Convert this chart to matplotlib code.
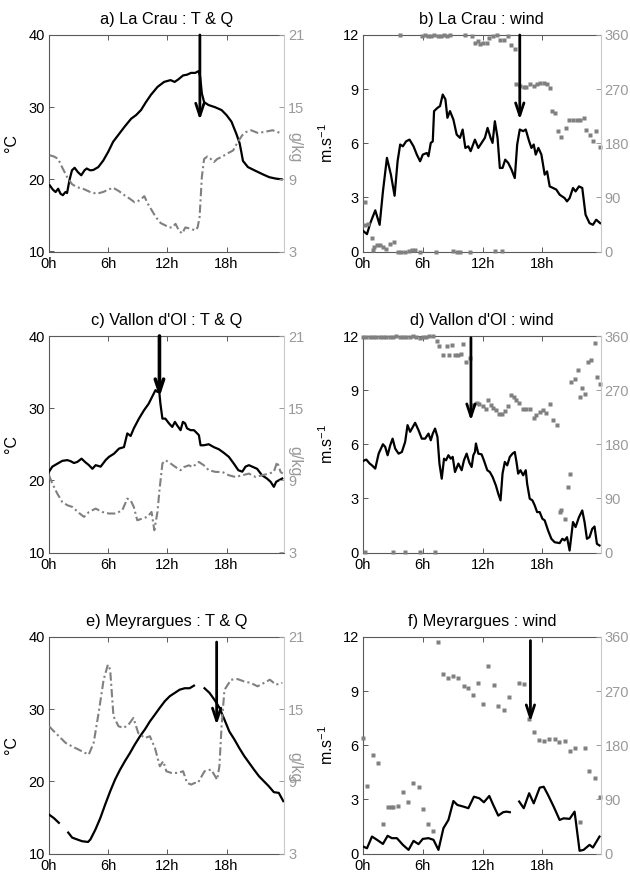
import numpy as np
import matplotlib
matplotlib.use('Agg')
import matplotlib.pyplot as plt

plt.rcParams['font.family'] = ['Liberation Sans', 'DejaVu Sans']
plt.rcParams['mathtext.fontset'] = 'custom'
plt.rcParams['mathtext.rm'] = 'Liberation Sans'
plt.rcParams['mathtext.it'] = 'Liberation Sans:italic'
plt.rcParams['mathtext.default'] = 'regular'
nan = np.nan

# ---------------- a) La Crau : T & Q ----------------
a_t_hour = [0.07, 0.4, 0.67, 0.93, 1.17, 1.4, 1.67, 1.83, 2.07, 2.33, 2.6, 2.93, 3.27, 3.6, 3.83, 4.17, 4.5, 5.0, 5.5, 6.0,
            6.5, 7.0, 7.67, 8.33, 8.83, 9.33, 9.83, 10.33, 11.0, 11.67, 12.33, 12.73, 13.07, 13.6, 14.0, 14.4, 14.83,
            15.17, 15.33, 15.5, 15.73, 16.17, 16.83, 17.5, 18.0, 18.5, 19.0, 19.33, 19.5, 19.67, 20.17, 20.83, 21.67,
            22.33, 23.0, 23.6]
a_t_val = [19.17, 18.56, 18.24, 18.7, 18.0, 17.8, 18.24, 18.1, 19.86, 21.25, 21.6, 21.0, 20.56, 21.25, 21.5, 21.25, 21.3,
           21.7, 22.6, 23.8, 25.2, 26.1, 27.3, 28.4, 28.9, 29.6, 30.7, 31.7, 32.8, 33.5, 33.75, 33.5, 33.8, 34.4, 34.5,
           34.75, 34.75, 35.0, 34.2, 31.9, 30.7, 30.3, 30.0, 29.6, 28.9, 28.0, 26.3, 25.0, 23.8, 22.55, 21.7, 21.25,
           20.7, 20.3, 20.1, 20.0]
a_q_hour = [0.07, 0.5, 0.93, 1.33, 1.83, 2.33, 2.83, 3.5, 4.17, 4.83, 5.5, 6.0, 6.5, 7.07, 7.67, 8.17, 8.67, 9.17, 9.67,
            10.0, 10.33, 10.83, 11.33, 11.73, 12.17, 12.5, 12.83, 13.17, 13.5, 13.83, 14.33, 14.83, 15.07, 15.27, 15.5,
            15.73, 16.07, 16.4, 16.73, 17.07, 17.5, 18.07, 18.67, 19.07, 19.6, 20.0, 20.5, 21.17, 21.83, 22.67, 23.17,
            23.6]
a_q_val = [11.0, 10.9, 10.7, 10.0, 9.2, 8.6, 8.35, 8.2, 7.95, 7.8, 7.95, 8.14, 8.3, 8.03, 7.67, 7.4, 7.1, 7.25, 7.6,
           7.0, 6.55, 5.86, 5.36, 5.2, 5.0, 5.0, 5.3, 4.75, 4.5, 5.0, 4.9, 4.75, 5.0, 5.86, 9.2, 10.7, 10.9, 10.7,
           10.44, 10.7, 10.86, 11.14, 11.4, 12.0, 12.67, 12.94, 13.08, 12.86, 12.94, 13.08, 12.94, 12.8]

# ---------------- b) La Crau : wind ----------------
b_s_hour = [0, 0.4, 0.73, 1.23, 1.67, 2.0, 2.4, 2.8, 3.17, 3.47, 3.73, 4.0, 4.33, 4.67, 5.07, 5.4, 5.73, 6.0, 6.4, 6.57,
            6.8, 7.0, 7.13, 7.47, 7.73, 8.0, 8.27, 8.47, 8.73, 9.07, 9.4, 9.73, 10.0, 10.27, 10.57, 10.8, 11.23, 11.57,
            11.9, 12.23, 12.5, 12.8, 13.0, 13.23, 13.5, 13.73, 14.0, 14.27, 14.57, 14.9, 15.23, 15.47, 15.73, 16.07,
            16.33, 16.67, 16.9, 17.13, 17.33, 17.6, 17.9, 18.23, 18.47, 18.73, 19.07, 19.4, 19.73, 20.23, 20.47, 20.73,
            21.07, 21.33, 21.67, 22.0, 22.33, 22.73, 23.07, 23.4, 23.8]
b_s_val = [1.15, 0.96, 1.57, 2.28, 1.48, 3.33, 5.19, 4.26, 3.09, 5.0, 5.93, 5.83, 6.11, 6.2, 5.83, 5.37, 5.0, 5.37, 5.46,
           5.28, 6.02, 6.1, 7.78, 7.96, 8.06, 8.7, 8.43, 7.41, 7.78, 7.31, 6.48, 6.3, 6.76, 5.74, 5.83, 5.56, 6.2, 5.74,
           6.02, 6.3, 6.85, 6.3, 6.02, 7.22, 6.3, 4.63, 4.63, 5.09, 4.91, 4.54, 4.07, 5.93, 6.76, 6.67, 6.76, 6.11,
           5.74, 5.93, 5.37, 5.74, 5.37, 4.26, 4.44, 3.61, 3.52, 3.43, 3.15, 2.96, 2.78, 2.96, 3.52, 3.33, 3.61, 3.52,
           2.04, 1.57, 1.48, 1.76, 1.57]
b_d_hour = [0.2, 0.2, 0.47, 0.93, 1.0, 1.13, 1.4, 1.73, 2.0, 2.33, 2.73, 3.07, 3.47, 3.8, 4.23, 4.57, 4.9, 5.23, 5.67,
            7.33, 9.07, 9.47, 9.73, 10.73, 13.23, 13.9,
            3.73, 5.9, 6.2, 6.5, 6.8, 7.1, 7.5, 7.8, 8.1, 8.4, 8.7, 10.23, 10.9, 11.23, 11.57, 11.7, 12.07, 12.4, 12.67,
            13.07, 13.4, 13.73, 14.13, 14.57, 14.9, 15.23,
            15.4, 15.73, 16.13, 16.4, 16.8, 17.13, 17.47, 17.8, 18.13, 18.47, 18.8,
            19.0, 19.23, 19.57, 19.9, 20.4, 20.67, 21.07, 21.47, 21.8, 22.13, 22.4, 22.8, 23.07, 23.33, 23.8]
b_d_val = [82, 44, 45, 23, 3, 8, 11, 11, 7, 4, 12, 16, 0, 0, 0, 1, 3, 3, 0,
           0, 1, 0, 0, 0, 1, 1,
           360, 359, 360, 359, 358, 360, 358, 358, 360, 359, 360, 360, 358, 347, 350, 345, 347, 347, 355,
           358, 360, 351, 351, 358, 344, 336,
           278, 275, 273, 273, 278, 275, 279, 280, 280, 278, 272,
           233, 231, 200, 190, 206, 218, 218, 218, 219, 222, 202, 194, 183, 201, 173]

# ---------------- c) Vallon d'Ol : T & Q ----------------
c_t_hour = [0, 0.34, 0.84, 1.35, 1.86, 2.2, 2.53, 2.87, 3.3, 3.65, 4.05, 4.4, 4.73, 5.24, 5.74, 6.08, 6.6, 7.1, 7.6, 7.94,
            8.28, 8.6, 9.12, 9.63, 10.1, 10.54, 10.8, 11.0, 11.15, 11.3, 11.5, 11.8, 12.16, 12.5, 12.77, 13.0, 13.34,
            13.58, 13.8, 14.0, 14.36, 14.7, 15.03, 15.2, 15.37, 15.7, 16.2, 16.72, 17.23, 17.74, 18.24, 18.75, 19.2,
            19.6, 19.93, 20.27, 20.6, 21.1, 21.6, 22.1, 22.47, 22.8, 23.04, 23.3, 23.65]
c_t_val = [21.2, 21.9, 22.3, 22.7, 22.8, 22.65, 22.4, 22.55, 23.0, 22.55, 22.1, 21.6, 22.1, 21.9, 22.8, 23.25, 23.7, 24.4,
           24.6, 26.5, 26.15, 27.2, 28.55, 29.7, 30.6, 31.8, 32.5, 32.25, 32.7, 30.6, 28.55, 28.55, 27.9, 27.4, 28.1,
           27.6, 26.95, 28.1, 27.9, 27.2, 26.95, 26.95, 26.5, 26.25, 24.86, 24.86, 25.0, 24.6, 24.3, 23.8, 23.25, 22.3,
           21.4, 21.2, 21.9, 22.1, 21.9, 21.6, 20.7, 20.25, 19.8, 19.1, 19.8, 20.0, 20.25]
c_q_hour = [0, 0.34, 0.84, 1.35, 1.86, 2.36, 3.04, 3.55, 4.05, 4.73, 5.4, 6.08, 6.76, 7.43, 7.94, 8.28, 8.6, 8.95, 9.46,
            9.97, 10.4, 10.68, 11.0, 11.2, 11.5, 11.82, 12.33, 12.84, 13.34, 13.68, 14.19, 14.53, 15.2, 15.7, 16.2,
            16.9, 17.57, 18.24, 18.9, 19.6, 20.27, 20.95, 21.6, 22.3, 22.8, 23.14, 23.48, 23.7]
c_q_val = [9.42, 8.73, 7.9, 7.2, 6.93, 6.79, 6.29, 5.96, 6.37, 6.65, 6.37, 6.24, 6.24, 6.51, 7.48, 7.34, 6.79, 5.68, 5.82,
           5.96, 6.37, 4.85, 6.37, 8.17, 10.4, 10.67, 10.4, 10.1, 9.84, 10.1, 10.25, 10.1, 10.53, 10.25, 9.84, 9.7,
           9.7, 9.42, 9.28, 9.42, 9.56, 9.28, 9.42, 9.56, 9.7, 10.53, 9.7, 9.56]

# ---------------- d) Vallon d'Ol : wind ----------------
d_s_hour = [0, 0.33, 0.67, 0.9, 1.23, 1.57, 2.0, 2.23, 2.47, 2.73, 2.97, 3.23, 3.57, 3.9, 4.23, 4.47, 4.73, 5.0, 5.23,
            5.57, 5.9, 6.23, 6.57, 6.8, 7.0, 7.23, 7.47, 7.67, 7.9, 8.13, 8.33, 8.57, 8.8, 9.0, 9.23, 9.57, 9.9, 10.13,
            10.4, 10.67, 10.9, 11.07, 11.23, 11.33, 11.57, 11.9, 12.13, 12.47, 12.73, 13.0, 13.33, 13.57, 13.8, 14.0,
            14.23, 14.47, 14.73, 15.0, 15.23, 15.4, 15.57, 15.8, 16.07, 16.33, 16.47, 16.73, 17.0, 17.23, 17.47, 17.73,
            18.0, 18.23, 18.57, 18.9, 19.23, 19.73, 20.0, 20.23, 20.47, 20.73, 21.07, 21.33, 21.67, 22.0, 22.23, 22.47,
            22.73, 23.0, 23.23, 23.47, 23.73]
d_s_val = [5.07, 5.15, 4.93, 4.83, 4.65, 5.48, 6.0, 5.85, 5.39, 5.94, 6.31, 5.76, 5.48, 5.57, 6.13, 7.06, 6.69, 6.96,
           7.19, 6.78, 6.31, 6.31, 6.59, 6.22, 6.59, 6.87, 6.41, 4.93, 4.09, 5.2, 5.11, 5.39, 5.2, 5.3, 4.46, 4.93,
           4.56, 5.11, 5.48, 4.98, 4.74, 5.39, 5.57, 6.04, 5.48, 5.44, 5.11, 4.56, 4.46, 4.19, 3.72, 3.26, 2.89, 4.37,
           5.02, 4.83, 5.3, 5.48, 5.57, 5.02, 4.37, 4.56, 4.28, 4.56, 3.81, 2.98, 2.89, 2.61, 2.24, 2.24, 1.87, 1.78,
           1.22, 0.76, 0.57, 0.52, 0.76, 0.67, 0.85, 0.11, 1.69, 1.41, 1.96, 2.33, 1.69, 0.76, 0.85, 1.31, 1.44, 0.48,
           0.39]
d_d_hour = [0.0, 0.33, 0.67, 1.0, 1.33, 1.67, 2.0, 2.33, 2.67, 3.0, 3.33, 3.67, 4.0, 4.33, 4.67, 5.0, 5.33, 5.67, 6.0,
            6.33, 6.67, 7.0,
            7.47, 7.67, 8.07, 8.4, 8.67, 8.9, 9.23, 9.57, 9.8, 10.0, 10.33, 10.73,
            11.07, 11.4, 11.67, 12.0, 12.33, 12.57, 12.8, 13.07, 13.33, 13.67, 13.9, 14.23, 14.57, 14.9, 15.17, 15.4,
            15.67, 16.07, 16.4, 16.73, 17.13, 17.4, 17.73, 18.07, 18.4, 18.73, 19.07, 19.47,
            19.73, 19.9, 20.23, 20.57, 20.73, 20.9, 21.23, 21.57, 21.73, 22.0, 22.23, 22.57, 22.9, 23.23, 23.47, 23.73,
            0.23, 3.0, 4.23, 5.73, 7.23]
d_d_val = [359, 358, 359, 358, 359, 358, 358, 359, 358, 359, 360, 358, 358, 359, 358, 360, 358, 357, 359,
           358, 360, 360,
           352, 343, 328, 343, 328, 345, 328, 328, 330, 347, 317, 323,
           245, 248, 247, 243, 239, 253, 245, 241, 237, 230, 230, 236, 243, 262, 259, 253,
           248, 238, 238, 238, 224, 228, 234, 237, 232, 247, 221, 212,
           67, 70, 56, 109, 131, 284, 289, 303, 259, 274, 264, 316, 320, 348, 291, 281,
           1, 1, 1, 1, 1]

# ---------------- e) Meyrargues : T & Q ----------------
e_t_hour = [0, 0.5, 1.0, 1.5, 1.95, 2.35, 2.85, 3.36, 3.96, 4.2, 4.7, 5.2, 5.7, 6.2, 6.7, 7.2, 7.7, 8.2, 8.7, 9.23, 9.73,
            10.23, 10.74, 11.24, 11.74, 12.25, 12.75, 13.25, 13.76, 14.26, 14.7, 15.2, 15.77, 16.28, 16.78, 17.28,
            17.79, 18.29, 18.8, 19.3, 19.8, 20.3, 20.8, 21.3, 21.8, 22.3, 22.8, 23.3, 23.76]
e_t_val = [15.4, 14.9, 14.25, nan, 12.9, 12.2, 11.95, 11.7, 11.6, 11.95, 13.3, 14.9, 16.8, 18.6, 20.25, 21.6, 22.8, 23.9,
           25.1, 26.25, 27.2, 28.3, 29.25, 30.2, 31.1, 31.8, 32.25, 32.7, 32.9, 32.9, 33.26, nan, 32.9, 32.25, 31.3,
           30.2, 28.55, 26.9, 25.8, 24.6, 23.5, 22.55, 21.6, 20.7, 20.0, 19.3, 18.5, 18.4, 17.25]
e_q_hour = [0, 0.5, 1.0, 1.68, 2.35, 3.0, 3.52, 4.03, 4.53, 5.03, 5.54, 5.97, 6.2, 6.54, 7.05, 7.55, 8.05, 8.56, 9.06,
            9.73, 10.23, 10.74, 11.24, 11.58, 11.9, 12.4, 13.1, 13.6, 14.0, 14.43, 14.77, 15.1, 15.77, 16.44, 17.05,
            17.28, 17.5, 17.79, 18.46, 19.13, 19.8, 20.47, 21.14, 21.8, 22.4, 23.0, 23.66]
e_q_val = [13.58, 13.16, 12.75, 12.2, 11.9, 11.64, 11.42, 11.22, 12.2, 14.68, 17.45, 18.7, 18.3, 14.4, 13.58, 13.44,
           13.7, 14.27, 13.0, 12.6, 12.75, 11.78, 10.25, 10.67, 9.84, 9.7, 9.7, 9.84, 8.87, 8.73, 8.87, 8.87, 9.84,
           9.98, 9.14, 10.25, 13.58, 16.6, 17.45, 17.5, 17.3, 17.18, 16.9, 17.18, 17.45, 17.04, 17.18]

# ---------------- f) Meyrargues : wind ----------------
f_s_hour = [0, 0.4, 0.9, 1.4, 2.0, 2.47, 2.9, 3.4, 4.0, 4.57, 5.07, 5.57, 6.0, 6.57, 7.07, 7.57, 8.07, 8.57, 9.07, 9.47,
            10.07, 10.57, 11.13, 11.67, 12.13, 12.67, 13.07, 13.57, 14.07, 14.4, 14.73, 15.2, 15.67, 16.13, 16.67,
            17.13, 17.73, 18.13, 18.57, 19.13, 19.73, 20.13, 20.73, 21.23, 21.73, 22.13, 22.73, 23.07, 23.73]
f_s_val = [0.39, 0.29, 0.94, 0.76, 0.53, 0.98, 0.85, 0.85, 0.48, 0.2, 0.7, 0.52, 0.81, 0.85, 0.76, 0.2, 1.4, 1.86, 2.91,
           2.69, 2.6, 2.51, 3.15, 3.06, 2.84, 3.19, 2.69, 2.1, 2.29, 2.32, 2.29, nan, 2.88, 2.51, 3.34, 2.78, 3.65,
           3.7, 3.24, 2.6, 1.86, 1.95, 1.92, 2.32, 0.15, 0.2, 0.48, 0.33, 0.94]
f_d_hour = [0, 0.4, 1.0, 1.47, 2.0, 2.47, 2.8, 3.0, 3.47, 4.0, 4.47, 5.0, 5.57, 6.0, 6.57, 7.07, 7.5, 8.07, 8.57, 9.07,
            9.57, 10.13, 10.57, 11.07, 11.57, 12.07, 12.57, 13.13, 13.57, 14.13, 14.67, 15.67, 16.13, 16.67, 17.13,
            17.67, 18.13, 18.67, 19.23, 19.67, 20.23, 20.73, 21.23, 21.73, 22.23, 22.67, 23.23, 23.8]
f_d_val = [192, 113, 164, 150, 49, 78, 78, 78, 79, 102, 86, 118, 110, 74, 49, 37, 352, 298, 292, 295, 292, 278, 275,
           264, 284, 249, 311, 281, 246, 238, 260, 284, 282, 223, 202, 188, 187, 190, 190, 185, 187, 170, 176, 53, 175,
           137, 126, 94]

# ---------------- titles & arrows ----------------
titles = ['a) La Crau : T & Q', 'b) La Crau : wind',
          "c) Vallon d'Ol : T & Q", "d) Vallon d'Ol : wind",
          'e) Meyrargues : T & Q', 'f) Meyrargues : wind']
arrow_hour = [15.3, 15.73, 11.2, 10.83, 17.0, 16.8]
arrow_top = [40, 12, 40, 11.9, 39.3, 11.8]
arrow_tip = [28.2, 7.3, 31.5, 7.3, 27.8, 7.3]
xtick_pos = [0, 6, 12, 18]
xtick_lab = ['0h', '6h', '12h', '18h']

BLACK = '#000000'
GRAY = '#808080'
RGRAY = '#9a9a9a'
SPINE = '#5a5a5a'
TICKFS = 10.5

fig = plt.figure(figsize=(6.3, 8.77), dpi=100)
W, H = 630.0, 877.0
col_left = [49, 363]
col_width = [235, 237.5]
row_top = [35, 336, 637]
ax_h = 216.5

qlabel_y = [0.48, 0.42, 0.40]

tq = [(a_t_hour, a_t_val, a_q_hour, a_q_val),
      (c_t_hour, c_t_val, c_q_hour, c_q_val),
      (e_t_hour, e_t_val, e_q_hour, e_q_val)]
wd = [(b_s_hour, b_s_val, b_d_hour, b_d_val),
      (d_s_hour, d_s_val, d_d_hour, d_d_val),
      (f_s_hour, f_s_val, f_d_hour, f_d_val)]


def style(ax, ax2):
    ax.set_xlim(0, 23.83)
    ax.set_xticks(xtick_pos)
    ax.set_xticklabels(xtick_lab)
    ax.tick_params(axis='x', direction='in', top=True, bottom=True, length=3.5, width=0.7,
                   labelsize=TICKFS, pad=4, color=SPINE)
    ax.tick_params(axis='y', direction='in', left=True, right=False, length=3.5, width=0.7,
                   labelsize=TICKFS, pad=3, color=SPINE)
    for s in ['left', 'bottom', 'top']:
        ax.spines[s].set_color(SPINE)
        ax.spines[s].set_linewidth(0.8)
    ax.spines['right'].set_visible(False)
    for s in ['left', 'bottom', 'top']:
        ax2.spines[s].set_visible(False)
    ax2.spines['right'].set_color('#c8c8c8')
    ax2.spines['right'].set_linewidth(0.8)
    ax2.tick_params(axis='y', direction='in', right=True, length=3.5, width=0.7, labelsize=TICKFS, pad=3,
                    colors=RGRAY)


for r in range(3):
    bottom = (H - row_top[r] - ax_h) / H
    # ---- T & Q ----
    ax = fig.add_axes([col_left[0] / W, bottom, col_width[0] / W, ax_h / H])
    ax2 = ax.twinx()
    th, tv, qh, qv = tq[r]
    ax.plot(th, tv, color=BLACK, lw=1.6, zorder=3)
    ax2.plot(qh, qv, color=GRAY, lw=1.5, linestyle=(0, (4, 1.5, 1, 1.5)))
    ax.set_ylim(10, 40)
    ax.set_yticks([10, 20, 30, 40])
    ax2.set_ylim(3, 21)
    ax2.set_yticks([3, 9, 15, 21])
    style(ax, ax2)
    ax2.set_xlim(0, 23.83)
    ax.set_ylabel('°C', fontsize=11.5, labelpad=7)
    ax2.set_ylabel('g/kg', fontsize=11.5, color=RGRAY, rotation=270)
    ax2.yaxis.set_label_coords(1.077, qlabel_y[r])
    ax.set_title(titles[2 * r], fontsize=11.8, pad=8)
    ax2.annotate('', xy=(arrow_hour[2 * r], arrow_tip[2 * r]), xycoords=ax.transData,
                 xytext=(arrow_hour[2 * r], arrow_top[2 * r]), textcoords=ax.transData,
                 arrowprops=dict(arrowstyle='->,head_length=0.45,head_width=0.15', lw=2.6 if r == 1 else 2.0,
                                 color='black', mutation_scale=20, shrinkA=0, shrinkB=0))

    # ---- wind ----
    ax = fig.add_axes([col_left[1] / W, bottom, col_width[1] / W, ax_h / H])
    ax2 = ax.twinx()
    sh, sv, dh, dv = wd[r]
    ax.plot(sh, sv, color=BLACK, lw=1.6, zorder=3)
    ax2.plot(dh, dv, 's', color=GRAY, ms=3.5, mec='none', clip_on=False)
    ax.set_ylim(0, 12)
    ax.set_yticks([0, 3, 6, 9, 12])
    ax2.set_ylim(0, 360)
    ax2.set_yticks([0, 90, 180, 270, 360])
    style(ax, ax2)
    ax2.set_xlim(0, 23.83)
    ax.set_ylabel(r'm.s$^{-1}$', fontsize=11.5, labelpad=5)
    ax.set_title(titles[2 * r + 1], fontsize=11.8, pad=8)
    ax2.annotate('', xy=(arrow_hour[2 * r + 1], arrow_tip[2 * r + 1]), xycoords=ax.transData,
                 xytext=(arrow_hour[2 * r + 1], arrow_top[2 * r + 1]), textcoords=ax.transData,
                 arrowprops=dict(arrowstyle='->,head_length=0.45,head_width=0.15', lw=2.0,
                                 color='black', mutation_scale=20, shrinkA=0, shrinkB=0))

fig.savefig('out.png', dpi=100)
